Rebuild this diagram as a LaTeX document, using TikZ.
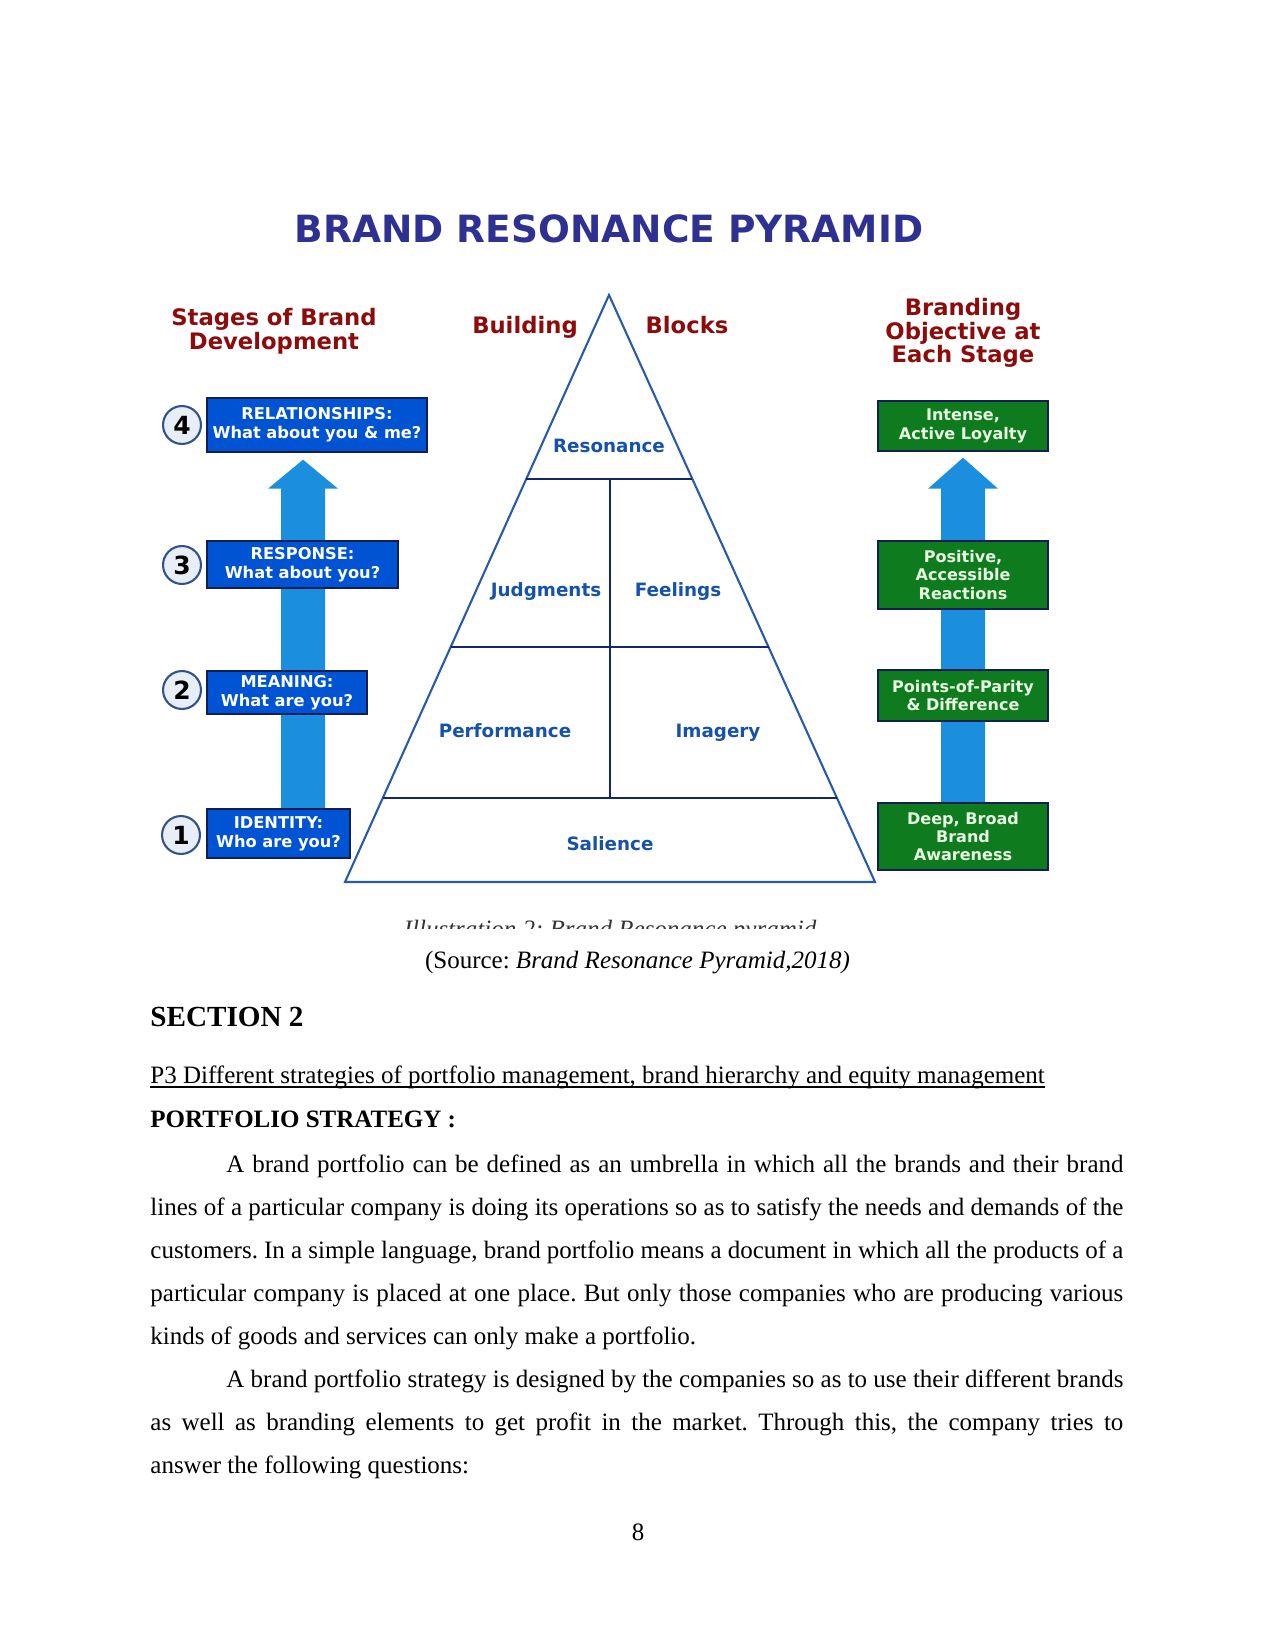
\documentclass[tikz,border=0pt]{standalone}
\usepackage{fontspec}
\setmainfont{Liberation Serif}
\newfontfamily\verd{DejaVu Sans}
\usetikzlibrary{calc,backgrounds}
\frenchspacing

\definecolor{titleblue}{RGB}{46,49,146}
\definecolor{headred}{RGB}{140,12,12}
\definecolor{stageblue}{RGB}{0,84,212}
\definecolor{boxedge}{RGB}{20,30,80}
\definecolor{arrowblue}{RGB}{28,142,222}
\definecolor{goalgreen}{RGB}{14,124,30}
\definecolor{greentext}{RGB}{232,246,226}
\definecolor{pyrline}{RGB}{40,90,170}
\definecolor{pyrinner}{RGB}{18,40,110}
\definecolor{labelblue}{RGB}{22,82,170}
\definecolor{circfill}{RGB}{232,238,248}
\definecolor{circedge}{RGB}{50,80,140}

\begin{document}
\begin{tikzpicture}[
  x=0.48pt, y=-0.48pt,
  heading/.style={text=headred, align=center, inner sep=0,
    font=\verd\bfseries\fontsize{10.9}{11.4}\selectfont},
  stagebox/.style={draw=boxedge, fill=stageblue, text=white, line width=0.7pt,
    inner sep=0, align=center, font=\verd\bfseries\fontsize{7.8}{9.1}\selectfont},
  goalbox/.style={draw=boxedge, fill=goalgreen, text=greentext, line width=0.7pt,
    inner sep=0, align=center, minimum width=81.6pt,
    font=\verd\bfseries\fontsize{7.7}{8.8}\selectfont},
  numcirc/.style={circle, draw=circedge, fill=circfill, line width=1pt,
    minimum size=18.2pt, inner sep=0, font=\verd\bfseries\fontsize{12}{12}\selectfont},
  block/.style={text=labelblue, inner sep=0, anchor=base,
    font=\verd\bfseries\fontsize{8.8}{10}\selectfont},
  bodyline/.style={anchor=base west, inner sep=0, font=\fontsize{12}{14}\selectfont}
]

% ── Page ───────────────────────────────────────────────────────
\begin{scope}[on background layer]
\fill[white] (0,0) rectangle (1275,1650);
\end{scope}

% ── Title and column headings ─────────────────────────────────
\node[anchor=base, inner sep=0, text=titleblue,
  font=\verd\bfseries\fontsize{18}{20}\selectfont] (title) at (609,243)
  {BRAND RESONANCE PYRAMID};
\node[heading] (stages) at (274,331) {Stages of Brand\\Development};
\node[heading, anchor=base] (bldg) at (525,334) {Building};
\node[heading, anchor=base] (blks) at (687,334) {Blocks};
\node[heading] (goals) at (963,333) {Branding\\Objective at\\Each Stage};

% ── Left column: stages ────────────────────────────────────────
\node[stagebox, minimum width=105.6pt, minimum height=25.9pt] (b4) at (317,425)
  {RELATIONSHIPS:\\What about you \& me?};
\node[stagebox, minimum width=91.7pt, minimum height=22.6pt] (b3) at (302.5,564.5)
  {RESPONSE:\\What about you?};
\node[stagebox, minimum width=76.8pt, minimum height=20.6pt] (b2) at (287,692.5)
  {MEANING:\\What are you?};
\node[stagebox, minimum width=68.6pt, minimum height=23.5pt] (b1) at (278.5,833.5)
  {IDENTITY:\\Who are you?};

\node[numcirc] (c4) at (182,425) {4};
\node[numcirc] (c3) at (182,565) {3};
\node[numcirc] (c2) at (182,690) {2};
\node[numcirc] (c1) at (181,835) {1};

% ── Right column: objectives ──────────────────────────────────
\node[goalbox, minimum height=24pt] (g4) at (963,426) {Intense,\\Active Loyalty};
\node[goalbox, minimum height=32.6pt] (g3) at (963,575) {Positive,\\Accessible\\Reactions};
\node[goalbox, minimum height=24.5pt] (g2) at (963,695.5) {Points-of-Parity\\\& Difference};
\node[goalbox, minimum height=32.2pt] (g1) at (963,836.5) {Deep, Broad\\Brand\\Awareness};

% ── Up arrows (behind the boxes) ──────────────────────────────
\coordinate (lshaft) at (303,0);
\coordinate (rshaft) at (963,0);
\path (lshaft |- b1.north) coordinate (lfoot)
      (lshaft |- b4.south) coordinate (ltop)
      (rshaft |- g1.north) coordinate (rfoot)
      (rshaft |- g4.south) coordinate (rtop);
\begin{scope}[on background layer]
\fill[arrowblue]
  ($(lfoot)+(-22,0)$) -- ($(ltop)+(-22,36)$) -- ($(ltop)+(-35,36)$) -- ($(ltop)+(0,7)$)
  -- ($(ltop)+(35,36)$) -- ($(ltop)+(22,36)$) -- ($(lfoot)+(22,0)$) -- cycle;
\fill[arrowblue]
  ($(rfoot)+(-22,0)$) -- ($(rtop)+(-22,37)$) -- ($(rtop)+(-35,37)$) -- ($(rtop)+(0,6)$)
  -- ($(rtop)+(35,37)$) -- ($(rtop)+(22,37)$) -- ($(rfoot)+(22,0)$) -- cycle;
\end{scope}

% ── Pyramid ────────────────────────────────────────────────────
\coordinate (apex) at (609,295);
\coordinate (bl) at (345,882);
\coordinate (br) at (875,882);
\draw[pyrline, line width=1pt] (apex) -- (bl) -- (br) -- cycle;
\draw[pyrinner, line width=1.2pt]
  ($(apex)!0.3135!(bl)$) -- ($(apex)!0.3135!(br)$)
  ($(apex)!0.5997!(bl)$) -- ($(apex)!0.5997!(br)$)
  ($(apex)!0.8569!(bl)$) -- ($(apex)!0.8569!(br)$)
  (610,479) -- (610,798);

\node[block] (reso) at (609,452.7) {Resonance};
\node[block] (judg) at (546,596.7) {Judgments};
\node[block] (feel) at (678,596.7) {Feelings};
\node[block] (perf) at (505,737.7) {Performance};
\node[block] (imag) at (718,737.7) {Imagery};
\node[block] (sali) at (610,850.7) {Salience};

% ── Caption (cut off by the picture edge) ─────────────────────
\begin{scope}
\clip (0,0) rectangle (1275,928);
\node[anchor=base, inner sep=0, text=black!80, font=\itshape\fontsize{12}{14}\selectfont]
  (illus) at (610,937.5) {Illustration 2: Brand Resonance pyramid};
\end{scope}
\node[anchor=base, inner sep=0, font=\fontsize{12}{14}\selectfont] (src) at (637.5,968)
  {(Source: \textit{Brand Resonance Pyramid,2018)}};

% ── Body text ──────────────────────────────────────────────────
\node[anchor=base west, inner sep=0, font=\bfseries\fontsize{14}{16}\selectfont] (sec) at (150,1026)
  {SECTION 2};
\node[bodyline] (p3) at (150,1083)
  {P3 Different strategies of portfolio management, brand hierarchy and equity management};
\draw[line width=0.55pt] ([yshift=-1.9pt]p3.base west) -- ([yshift=-1.9pt]p3.base east);
\node[bodyline, font=\bfseries\fontsize{12}{14}\selectfont] (pstrat) at (150,1127)
  {PORTFOLIO STRATEGY :};

\node[bodyline] (p1l1) at (226,1172) {\makebox[430.6pt][s]{A brand portfolio can be defined as an umbrella in which all the brands and their brand}};
\node[bodyline] (p1l2) at (150,1215) {\makebox[467pt][s]{lines of a particular company is doing its operations so as to satisfy the needs and demands of the}};
\node[bodyline] (p1l3) at (150,1258) {\makebox[467pt][s]{customers. In a simple language, brand portfolio means a document in which all the products of a}};
\node[bodyline] (p1l4) at (150,1301) {\makebox[467pt][s]{particular company is placed at one place. But only those companies who are producing various}};
\node[bodyline] (p1l5) at (150,1344) {kinds of goods and services can only make a portfolio.};

\node[bodyline] (p2l1) at (226,1387) {\makebox[430.6pt][s]{A brand portfolio strategy is designed by the companies so as to use their different brands}};
\node[bodyline] (p2l2) at (150,1430) {\makebox[467pt][s]{as well as branding elements to get profit in the market. Through this, the company tries to}};
\node[bodyline] (p2l3) at (150,1473) {answer the following questions:};

\node[anchor=base, inner sep=0, font=\fontsize{12}{14}\selectfont] (pgno) at (638,1540) {8};

\end{tikzpicture}
\end{document}
